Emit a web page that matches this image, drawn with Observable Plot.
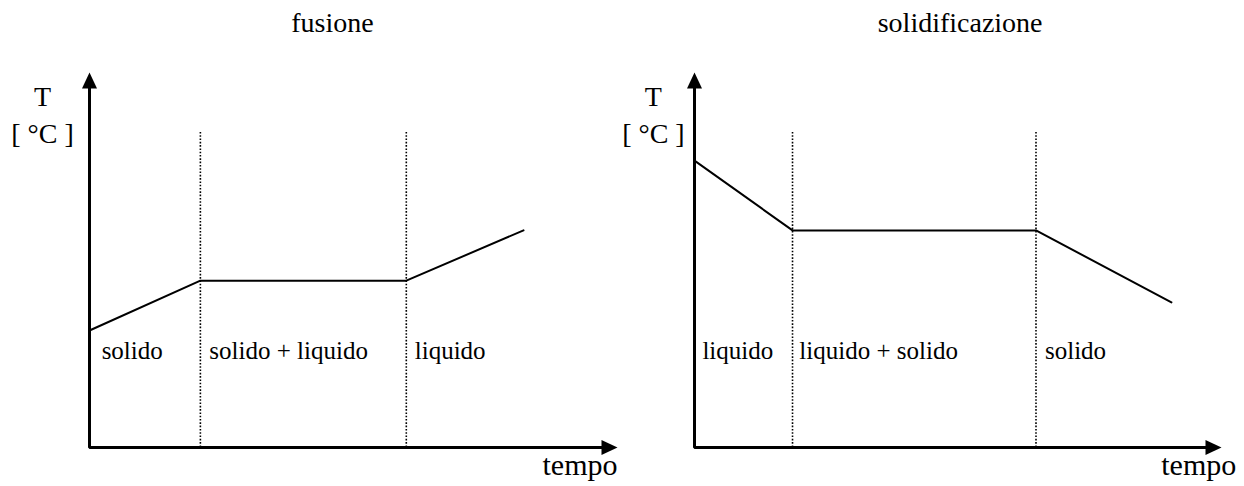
<!DOCTYPE html>
<html><head><meta charset="utf-8">
<script src="https://cdn.jsdelivr.net/npm/d3@7"></script>
<script src="https://cdn.jsdelivr.net/npm/@observablehq/plot@0.6"></script>
<style>
html,body{margin:0;padding:0;background:#fff;}
#row{display:flex;width:1244px;height:486px;}
</style></head><body><div id="row"></div>
<script>
// ---- data ----
const titles = ["fusione", "solidificazione"];
const yLabel = ["T", "[ °C ]"];
const xLabel = "tempo";

// fusione: temperature vs time (arbitrary units, axes 0..100)
const fusTime = [0, 21, 60, 82.2];
const fusTemp = [31.2, 44.5, 44.5, 57.9];
const fusBounds = [21, 60];
const fusPhases = ["solido", "solido + liquido", "liquido"];
const fusPhaseTime = [2.3, 22.7, 61.6];

// solidificazione
const solTime = [0, 18.6, 64.8, 90.5];
const solTemp = [76.5, 57.9, 57.9, 38.7];
const solBounds = [18.6, 64.8];
const solPhases = ["liquido", "liquido + solido", "solido"];
const solPhaseTime = [1.5, 19.9, 66.5];

// text anchors (data units)
const boundTop = 84.5;
const phaseLabelTemp = 23.7;
const titleTemp = 110.9;
const yLabelTemp = [91.2, 81.3];
const xLabelTemp = -7.2;

// ---- drawing ----
const arrowHead = {
  draw(ctx) {
    ctx.moveTo(0, 0);
    ctx.lineTo(-7.5, 16);
    ctx.lineTo(7.5, 16);
    ctx.closePath();
  }
};

function panel(cfg) {
  const pts = cfg.time.map((t, i) => ({t, T: cfg.temp[i]}));
  const phases = cfg.phases.map((p, i) => ({p, t: cfg.phaseTime[i]}));
  return Plot.plot({
    width: 622, height: 486,
    marginLeft: cfg.marginLeft, marginRight: cfg.marginRight,
    marginTop: 72, marginBottom: 39,
    x: {domain: [0, 100], axis: null},
    y: {domain: [0, 100], axis: null},
    style: {fontFamily: "'Liberation Serif', 'DejaVu Serif', serif", background: "white", overflow: "visible", color: "black"},
    marks: [
      Plot.ruleX(cfg.bounds, {x: d => d, y1: 0, y2: boundTop, stroke: "black", strokeWidth: 1.6, strokeDasharray: "1.6,1.7"}),
      Plot.line(pts, {x: "t", y: "T", stroke: "black", strokeWidth: 2}),
      Plot.line([{t: 0, T: 97}, {t: 0, T: 0}, {t: 98, T: 0}], {x: "t", y: "T", stroke: "black", strokeWidth: 3, strokeLinejoin: "miter"}),
      Plot.dot([{t: 0, T: 100}], {x: "t", y: "T", symbol: arrowHead, fill: "black", stroke: null, r: 6}),
      Plot.dot([{t: 100, T: 0}], {x: "t", y: "T", symbol: arrowHead, fill: "black", stroke: null, r: 6, rotate: 90}),
      Plot.text(phases, {x: "t", y: phaseLabelTemp, text: "p", textAnchor: "start", lineAnchor: "bottom", fontSize: 25}),
      Plot.text(yLabel, {x: cfg.yLabelTime, y: (d, i) => yLabelTemp[i], text: d => d, lineAnchor: "bottom", fontSize: 28}),
      Plot.text([xLabel], {x: cfg.xLabelTime, y: xLabelTemp, text: d => d, textAnchor: "end", lineAnchor: "bottom", fontSize: 30}),
      Plot.text([cfg.title], {x: cfg.titleTime, y: titleTemp, text: d => d, lineAnchor: "bottom", fontSize: 28})
    ]
  });
}

const row = document.getElementById("row");
row.append(panel({
  title: titles[0], time: fusTime, temp: fusTemp, bounds: fusBounds,
  phases: fusPhases, phaseTime: fusPhaseTime,
  marginLeft: 89, marginRight: 5, yLabelTime: -8.9, xLabelTime: 100, titleTime: 46
}));
row.append(panel({
  title: titles[1], time: solTime, temp: solTemp, bounds: solBounds,
  phases: solPhases, phaseTime: solPhaseTime,
  marginLeft: 72, marginRight: 23, yLabelTime: -7.8, xLabelTime: 102.8, titleTime: 50.4
}));
</script></body></html>
